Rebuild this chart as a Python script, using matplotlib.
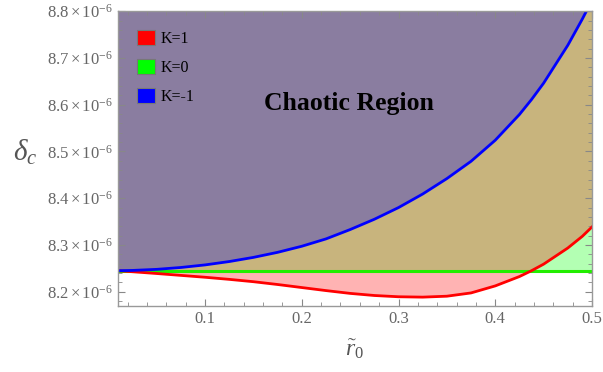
import numpy as np
import matplotlib
matplotlib.use("Agg")
import matplotlib.pyplot as plt
from matplotlib.patches import Patch
from matplotlib.ticker import MultipleLocator, FuncFormatter

plt.rcParams['font.family'] = ['Liberation Serif', 'DejaVu Serif']
plt.rcParams['mathtext.fontset'] = 'custom'
plt.rcParams['mathtext.rm'] = 'Liberation Serif'
plt.rcParams['mathtext.it'] = 'Liberation Serif:italic'
plt.rcParams['mathtext.bf'] = 'Liberation Serif:bold'

# values (delta_c in units of 1e-6)
r0 = [0.01, 0.025, 0.05, 0.075, 0.1, 0.125, 0.15, 0.175, 0.2, 0.225, 0.25,
      0.275, 0.3, 0.325, 0.35, 0.375, 0.4, 0.425, 0.4375, 0.45, 0.475, 0.49, 0.5]
k_pos = [8.245, 8.2428, 8.239, 8.235, 8.231, 8.2265, 8.2215, 8.2155, 8.209, 8.2025, 8.1965,
         8.192, 8.1893, 8.1885, 8.1905, 8.1975, 8.2125, 8.2325, 8.245, 8.259, 8.2935, 8.3185, 8.3385]
k_zero = [8.245] * len(r0)
k_neg = [8.245, 8.2456, 8.2479, 8.2519, 8.2574, 8.2646, 8.2735, 8.2843, 8.2973, 8.313, 8.333,
         8.355, 8.380, 8.409, 8.442, 8.479, 8.524, 8.579, 8.611, 8.646, 8.727, 8.783, 8.823]
legend_labels = ['K=1', 'K=0', 'K=-1']

x = np.array(r0)
red = np.array(k_pos) * 1e-6
grn = np.array(k_zero) * 1e-6
blu = np.array(k_neg) * 1e-6
ymin, ymax = 8.17e-6, 8.8e-6

fig = plt.figure(figsize=(6.03, 3.72), dpi=100)
ax = fig.add_axes([0.1957, 0.178, 0.786, 0.792])

ax.fill_between(x, red, grn, where=red <= grn, interpolate=True, color='#ffb3b3', lw=0)
ax.fill_between(x, grn, red, where=red >= grn, interpolate=True, color='#b3ffb3', lw=0)
ax.fill_between(x, np.maximum(red, grn), blu, color='#c8b47d', lw=0)
ax.fill_between(x, blu, 1e-5, color='#8a7da0', lw=0)

cross = red >= grn
i0 = cross.argmax()
ax.plot(x[:i0 + 1], grn[:i0 + 1], color='#4cb400', lw=2.2)
ax.plot(x[i0:], grn[i0:], color='#22ee00', lw=2.2)
ax.plot(x, red, color='#ff0000', lw=2.0)
ax.plot(x, blu, color='#0000ff', lw=2.0)

ax.set_xlim(0.01, 0.5)
ax.set_ylim(ymin, ymax)

ax.xaxis.set_major_locator(MultipleLocator(0.1))
ax.xaxis.set_minor_locator(MultipleLocator(0.02))
ax.yaxis.set_major_locator(MultipleLocator(0.1e-6))
ax.yaxis.set_minor_locator(MultipleLocator(0.02e-6))
ax.xaxis.set_major_formatter(FuncFormatter(lambda v, p: '%.1f' % v))
ax.yaxis.set_major_formatter(FuncFormatter(lambda v, p: r'$%.1f\times10^{-6}$' % (v * 1e6)))
ax.tick_params(which='both', direction='in', top=True, right=True, colors='#888888',
               labelcolor='#666666', labelsize=12)
ax.tick_params(which='major', length=5, width=0.8)
ax.tick_params(which='minor', length=3, width=0.6)
for s in ax.spines.values():
    s.set_color('#999999')
    s.set_linewidth(1.0)

ax.set_xlabel(r'$\tilde{r}_0$', fontsize=17, color='#555555', labelpad=8)
ax.set_ylabel(r'$\delta_c$', fontsize=21, color='#555555', rotation=0)
ax.yaxis.set_label_coords(-0.195, 0.47)

ax.text(0.249, 8.603e-6, 'Chaotic Region', fontsize=18.5, fontweight='bold', color='black',
        ha='center', va='center')

handles = [Patch(facecolor=c, edgecolor='#777777', lw=0.8) for c in ['#ff0000', '#00ff00', '#0000ff']]
ax.legend(handles, legend_labels, loc='upper left', frameon=False, fontsize=11.5,
          handlelength=1.1, handleheight=1.1, handletextpad=0.4, labelspacing=0.75,
          bbox_to_anchor=(0.02, 0.97), borderaxespad=0.2)

fig.savefig('out.png', dpi=100)
